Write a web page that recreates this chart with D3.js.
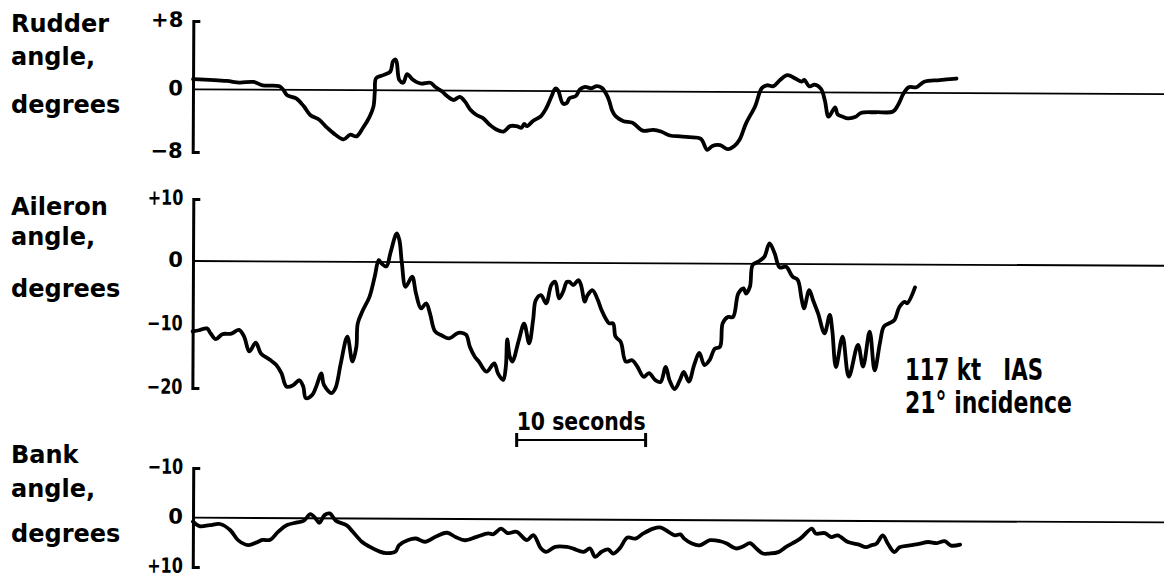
<!DOCTYPE html>
<html>
<head>
<meta charset="utf-8">
<script src="https://cdn.jsdelivr.net/npm/d3@7"></script>
<style>
  html, body { margin: 0; padding: 0; background: #fff; }
  svg { display: block; }
  text { font-family: "DejaVu Sans", sans-serif; font-weight: bold; fill: #000; }
</style>
</head>
<body>
<svg id="chart" width="1164" height="577"></svg>
<script>
// Time histories: [time (s), angle (deg)]
const rudder = [
  [0,1.2],[2.6,1.0],[3.6,0.8],[4.7,0.9],[5.4,0.5],[6.7,0.4],[7.0,0.0],[7.3,-0.7],[8.0,-1.1],[8.6,-2.1],
  [9.1,-3.2],[9.8,-3.8],[10.4,-4.8],[10.9,-5.5],[11.7,-6.3],[12.2,-5.7],[12.7,-5.9],[13.2,-4.8],[13.7,-3.4],
  [14.0,-2.1],[14.1,-0.2],[14.2,1.4],[14.8,1.8],[15.3,2.2],[15.5,3.4],[15.7,3.6],[15.8,3.2],[16.0,1.2],
  [16.3,0.9],[16.6,1.9],[17.0,1.3],[17.3,1.0],[17.7,0.8],[18.4,0.9],[18.8,0.4],[19.3,-0.1],[19.7,-0.7],
  [20.2,-1.2],[20.7,-0.8],[21.1,-1.4],[21.5,-2.4],[22.0,-3.1],[22.5,-3.5],[23.0,-4.3],[23.5,-4.9],[24.1,-5.2],
  [24.6,-4.5],[25.1,-4.5],[25.5,-4.7],[25.7,-4.2],[25.9,-4.5],[26.4,-3.8],[27.0,-3.2],[27.4,-2.2],[27.8,-0.7],
  [28.1,0.3],[28.3,0.1],[28.7,-1.6],[29.0,-1.5],[29.2,-0.9],[29.7,-0.6],[30.0,0.2],[30.4,0.5],[30.9,0.35],
  [31.3,0.6],[31.7,0.4],[32.1,-0.5],[32.3,-1.3],[32.5,-2.4],[32.8,-3.2],[33.4,-3.8],[34.1,-4.0],[34.9,-5.0],
  [35.7,-4.9],[36.3,-5.1],[37.0,-5.6],[37.8,-5.7],[38.5,-5.8],[39.4,-6.0],[39.9,-7.4],[40.3,-6.9],[40.9,-6.8],
  [41.5,-7.3],[42.0,-6.9],[42.4,-6.1],[42.9,-4.0],[43.6,-1.8],[44.1,0.45],[44.5,0.8],[45.0,0.7],[45.5,1.4],
  [46.1,2.0],[46.7,1.6],[47.2,1.25],[47.4,1.45],[47.8,0.7],[48.2,0.9],[48.7,0.4],[49.0,-1.0],[49.3,-3.1],
  [49.8,-1.9],[50.0,-2.8],[50.4,-3.1],[50.8,-3.3],[51.4,-3.1],[51.8,-2.6],[53.0,-2.5],[54.3,-2.4],[54.7,-1.5],
  [55.1,-0.1],[55.5,0.65],[56.1,0.65],[56.7,1.3],[57.9,1.5],[59.2,1.7]
];

const aileron = [
  [0.0,-11.1],[0.5,-10.9],[1.1,-10.6],[1.4,-11.4],[1.8,-12.3],[2.3,-11.5],[3.0,-11.4],[3.6,-10.8],[4.0,-11.9],
  [4.4,-14.2],[4.9,-12.8],[5.3,-14.5],[6.0,-15.5],[6.5,-16.3],[6.9,-17.6],[7.3,-19.7],[7.8,-19.5],[8.3,-18.7],
  [8.6,-19.7],[8.8,-21.5],[9.3,-21.0],[9.6,-19.7],[10.0,-17.6],[10.2,-19.4],[10.8,-20.7],[11.1,-19.9],[11.5,-16.0],
  [12.0,-11.8],[12.4,-15.7],[12.7,-13.4],[12.8,-9.7],[13.2,-7.6],[13.7,-5.5],[14.1,-2.3],[14.4,0.3],[14.6,-0.2],
  [15.0,-0.7],[15.3,1.4],[15.7,4.35],[15.8,4.6],[16.0,3.5],[16.2,-0.2],[16.5,-3.9],[17.0,-2.3],[17.3,-4.9],
  [17.7,-7.3],[18.1,-6.5],[18.4,-8.1],[18.8,-10.9],[19.3,-11.5],[19.9,-12.0],[20.6,-11.1],[21.2,-11.4],[21.5,-13.3],
  [21.9,-14.9],[22.2,-15.6],[22.8,-17.2],[23.4,-15.9],[23.7,-17.5],[24.1,-18.5],[24.3,-16.4],[24.4,-12.1],[24.6,-14.8],
  [24.8,-15.6],[25.3,-12.2],[25.7,-9.6],[26.1,-12.7],[26.4,-9.0],[26.6,-5.9],[27.0,-5.1],[27.4,-6.4],[27.8,-3.5],
  [28.1,-3.0],[28.4,-5.6],[28.7,-4.6],[29.0,-3.0],[29.2,-3.0],[29.5,-3.5],[29.9,-2.7],[30.1,-3.5],[30.4,-6.1],
  [30.6,-5.1],[31.0,-4.3],[31.4,-5.8],[31.7,-7.4],[32.1,-9.0],[32.3,-9.5],[32.6,-9.5],[32.8,-11.6],[33.2,-12.4],
  [33.6,-15.5],[34.1,-15.3],[34.5,-16.3],[35.0,-17.9],[35.4,-17.3],[35.9,-18.4],[36.3,-18.7],[36.7,-16.3],[37.0,-18.4],
  [37.4,-19.8],[37.8,-18.4],[38.1,-17.1],[38.5,-18.6],[38.9,-16.0],[39.3,-14.1],[39.7,-16.0],[40.1,-15.2],[40.5,-13.4],
  [40.9,-13.1],[41.1,-9.4],[41.5,-8.4],[41.9,-8.4],[42.3,-4.7],[42.7,-3.9],[42.9,-4.7],[43.2,-3.6],[43.4,-0.2],
  [43.8,0.3],[44.3,1.1],[44.7,3.3],[45.1,1.7],[45.5,-0.55],[46.0,-0.45],[46.5,-2.0],[46.9,-2.5],[47.2,-5.4],
  [47.4,-7.0],[47.8,-4.1],[48.1,-5.7],[48.5,-7.8],[49.0,-10.9],[49.4,-8.0],[49.6,-10.4],[49.9,-16.2],[50.4,-11.4],
  [50.9,-17.7],[51.6,-12.7],[52.0,-16.1],[52.5,-10.6],[52.9,-16.7],[53.3,-12.4],[53.6,-9.8],[54.0,-9.3],[54.4,-8.8],
  [54.8,-6.7],[55.2,-5.9],[55.4,-6.1],[56.0,-3.6]
];

const bank = [
  [0.0,0.8],[0.5,1.7],[1.3,1.5],[2.1,1.25],[2.9,2.5],[3.5,4.5],[4.3,5.5],[4.9,5.0],[5.4,4.45],[6.0,4.4],
  [6.6,2.8],[7.3,1.4],[8.0,0.9],[8.6,0.5],[9.1,-0.85],[9.5,0.0],[9.8,0.9],[10.2,-0.65],[10.6,-1.0],[11.1,0.5],
  [11.9,1.35],[12.4,2.7],[13.1,4.7],[13.7,5.7],[14.5,6.7],[15.0,7.0],[15.7,6.7],[16.0,5.35],[16.7,4.3],[17.3,4.0],
  [18.0,4.65],[18.9,3.5],[19.7,2.8],[20.4,3.7],[21.1,4.3],[22.0,3.6],[22.9,2.9],[23.3,3.05],[23.9,1.9],[24.4,2.8],
  [25.1,2.55],[25.9,4.2],[26.4,3.2],[27.0,5.9],[27.4,6.6],[28.1,5.55],[29.0,5.55],[29.5,5.9],[30.3,6.55],[30.8,5.85],
  [31.2,7.55],[31.7,6.5],[32.2,6.0],[32.6,6.85],[33.1,5.8],[33.7,3.6],[34.3,3.8],[34.9,2.8],[35.7,1.75],[36.3,1.55],
  [37.0,2.6],[37.4,3.1],[37.8,2.9],[38.1,3.75],[38.7,4.75],[39.3,5.1],[40.1,4.05],[40.9,4.25],[41.4,4.7],[42.1,5.7],
  [42.7,5.25],[43.2,4.6],[43.7,5.7],[44.2,6.7],[44.7,6.7],[45.4,6.4],[46.0,5.35],[47.1,3.65],[48.0,1.6],[48.3,2.6],
  [49.0,2.5],[49.5,3.3],[50.0,2.95],[50.8,4.3],[51.6,4.75],[52.2,5.3],[52.6,4.95],[53.0,4.6],[53.5,2.9],[53.9,4.6],
  [54.4,6.3],[54.8,5.3],[55.6,4.9],[56.4,4.55],[57.0,4.2],[57.7,4.4],[58.3,4.0],[58.8,4.9],[59.5,4.7]
];

const rudderTicks = [8, 0, -8];
const aileronTicks = [10, 0, -10, -20];
const bankTicks = [-10, 0, 10];

const rudderTitle = ["Rudder", "angle,", "degrees"];
const aileronTitle = ["Aileron", "angle,", "degrees"];
const bankTitle = ["Bank", "angle,", "degrees"];

const scaleBarStart = 25.1;   // s
const scaleBarLength = 10;    // s
const scaleBarText = "10 seconds";
const conditionLines = ["117 kt   IAS", "21° incidence"];

// ---- layout ----
const svg = d3.select("#chart");
const x = d3.scaleLinear().domain([0, 75.3]).range([193, 1164]);
const tilt = 0.28; // degrees, slight skew of the recorder paper

const signed = v => v > 0 ? "+" + v : v < 0 ? "\u2212" + (-v) : "0";

const panels = [
  { data: rudder, ticks: rudderTicks, title: rudderTitle, titleY: [32, 65, 113],
    y: d3.scaleLinear().domain([-8, 0, 8]).range([152, 89.3, 21]) },
  { data: aileron, ticks: aileronTicks, title: aileronTitle, titleY: [215, 245, 297],
    y: d3.scaleLinear().domain([-20, 0, 10]).range([388, 261, 199]) },
  { data: bank, ticks: bankTicks, title: bankTitle, titleY: [463, 497, 542],
    y: d3.scaleLinear().domain([-10, 0, 10]).range([468, 517.7, 567]) }
];

panels.forEach(p => {
  // quantity name on the left
  svg.append("g").selectAll("text").data(p.title).join("text")
    .attr("x", 11).attr("y", (d, i) => p.titleY[i])
    .attr("font-size", 24)
    .text(d => d);

  const g = svg.append("g")
    .attr("transform", `rotate(${tilt},${x(0)},${p.y(0)})`);

  // bracket-style vertical axis
  const ax = g.append("g")
    .attr("transform", `translate(${x(0)},0)`)
    .call(d3.axisLeft(p.y).tickValues(p.ticks).tickSizeInner(0).tickSizeOuter(-7)
      .tickPadding(10).tickFormat(signed));
  ax.attr("font-family", null).attr("font-size", null);
  ax.select(".domain").attr("stroke", "#000").attr("stroke-width", 3).attr("fill", "none");
  ax.selectAll(".tick text")
    .attr("font-size", 21).attr("dy", "0.26em").attr("fill", "#000")
    .each(function () {
      // narrow lettering for the two-digit labels
      if (this.textContent.length > 2) {
        d3.select(this).attr("textLength", this.getComputedTextLength() * 0.76)
          .attr("lengthAdjust", "spacingAndGlyphs");
      }
    });

  // zero reference line
  g.append("line")
    .attr("x1", x(0)).attr("x2", x(x.domain()[1]))
    .attr("y1", p.y(0)).attr("y2", p.y(0))
    .attr("stroke", "#000").attr("stroke-width", 1.8);

  // recorded trace
  const line = d3.line()
    .x(d => x(d[0])).y(d => p.y(d[1]))
    .curve(d3.curveCatmullRom.alpha(0.5));
  g.append("path").datum(p.data)
    .attr("d", line)
    .attr("fill", "none").attr("stroke", "#000")
    .attr("stroke-width", 3.8)
    .attr("stroke-linejoin", "round").attr("stroke-linecap", "round");
});

// time scale bar
const sb = svg.append("g");
const sx0 = x(scaleBarStart), sx1 = x(scaleBarStart + scaleBarLength);
sb.append("line").attr("x1", sx0).attr("x2", sx1).attr("y1", 440).attr("y2", 440)
  .attr("stroke", "#000").attr("stroke-width", 2.2);
sb.selectAll("line.end").data([sx0, sx1]).join("line").attr("class", "end")
  .attr("x1", d => d).attr("x2", d => d).attr("y1", 433).attr("y2", 447)
  .attr("stroke", "#000").attr("stroke-width", 3);
sb.append("text").attr("x", sx0).attr("y", 430)
  .attr("font-size", 24)
  .attr("textLength", sx1 - sx0).attr("lengthAdjust", "spacingAndGlyphs")
  .text(scaleBarText);

// test conditions
const cond = svg.append("g");
const condWidths = [138, 167];
cond.selectAll("text").data(conditionLines).join("text")
  .attr("x", 905).attr("y", (d, i) => 380 + i * 33)
  .attr("font-size", 30)
  .style("white-space", "pre")
  .attr("textLength", (d, i) => condWidths[i]).attr("lengthAdjust", "spacingAndGlyphs")
  .text(d => d);
</script>
</body>
</html>
